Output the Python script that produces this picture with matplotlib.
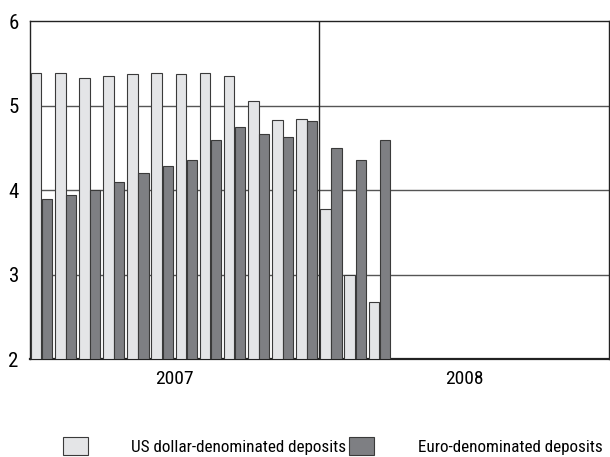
import numpy as np
import matplotlib.pyplot as plt
import matplotlib as mpl

mpl.rcParams['font.family'] = ['Roboto Condensed', 'Liberation Sans', 'DejaVu Sans']

# monthly rates, Jan 2007 - Mar 2008
months = np.arange(15)
usd = [5.38, 5.39, 5.32, 5.35, 5.37, 5.39, 5.37, 5.38, 5.35, 5.05, 4.83, 4.84,
       3.78, 3.00, 2.68]
eur = [3.89, 3.94, 4.00, 4.10, 4.20, 4.28, 4.36, 4.59, 4.75, 4.66, 4.63, 4.82,
       4.50, 4.36, 4.59]
years = ['2007', '2008']
yticks = [2, 3, 4, 5, 6]
labels = ['US dollar-denominated deposits', 'Euro-denominated deposits']

light = '#e4e5e7'
dark = '#7e7f83'
edge = '#3a3a3a'

fig = plt.figure(figsize=(6.10, 4.57), dpi=100)
ax = fig.add_axes([0.049, 0.2144, 0.949, 0.7396])

b1 = ax.bar(months + 0.04, np.array(usd) - 2, bottom=2, width=0.44, align='edge',
            color=light, edgecolor=edge, linewidth=0.8, zorder=3, label=labels[0])
b2 = ax.bar(months + 0.5, np.array(eur) - 2, bottom=2, width=0.42, align='edge',
            color=dark, edgecolor=edge, linewidth=0.8, zorder=3, label=labels[1])

ax.set_xlim(0, 24)
ax.set_ylim(2, 6)
ax.set_yticks(yticks)
ax.set_yticklabels([str(t) for t in yticks], fontsize=15)
ax.tick_params(axis='y', length=0, pad=8)
ax.set_xticks([6, 18])
ax.set_xticklabels(years, fontsize=14)
ax.tick_params(axis='x', length=0, pad=8)

for y in yticks[1:-1]:
    ax.axhline(y, color='#555555', linewidth=1.0, zorder=1)
ax.axvline(12, color='#222222', linewidth=1.0, zorder=4)

for s in ax.spines.values():
    s.set_color('#222222')
    s.set_linewidth(1.0)
ax.spines['bottom'].set_linewidth(1.6)

leg = fig.legend(handles=[b1, b2], loc='lower left', bbox_to_anchor=(0.103, 0.004),
                 ncol=2, frameon=False, fontsize=12.3, handlelength=1.46, handleheight=1.25,
                 handletextpad=2.55, columnspacing=0.17, borderaxespad=0, borderpad=0)

fig.savefig('out.png', dpi=100)
